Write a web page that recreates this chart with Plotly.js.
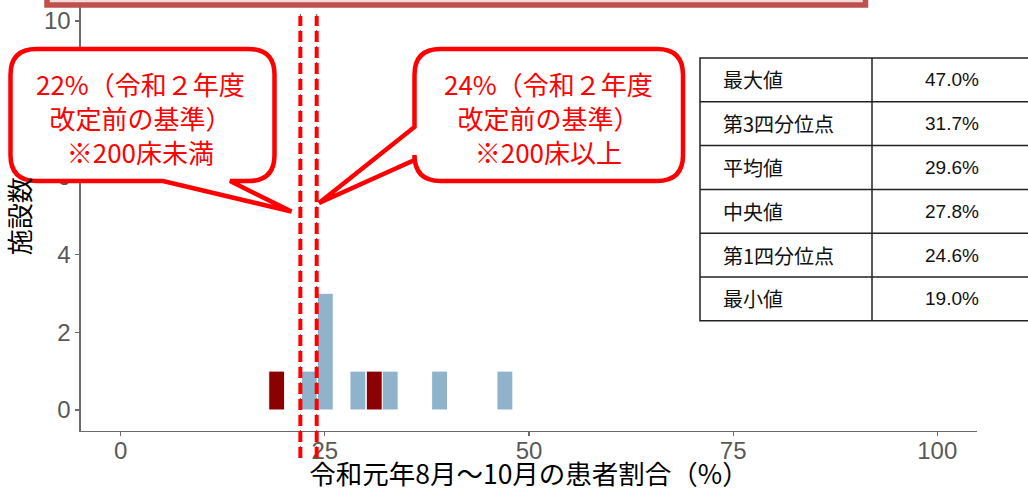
<!DOCTYPE html>
<html>
<head>
<meta charset="utf-8">
<script src="https://cdn.plot.ly/plotly-3.0.1.min.js"></script>
<style>html,body{margin:0;padding:0;background:#fff;}#chart{width:1028px;height:492px;}</style>
</head>
<body>
<div id="chart"></div>
<script>
// ---- data ----
const blueBins = [23.1, 25.05, 29.05, 33.0, 39.05, 47.05];
const blueCounts = [1, 3, 1, 1, 1, 1];
const redBins = [19.1, 31.05];
const redCounts = [1, 1];
const binWidth = 1.95;
const thresholds = [22, 24];
const xTicks = [0, 25, 50, 75, 100];
const yTicks = [0, 2, 4, 6, 8, 10];
const calloutTexts = [
  "22%（令和２年度<br>改定前の基準）<br>※200床未満",
  "24%（令和２年度<br>改定前の基準）<br>※200床以上"
];
const tableLabels = ["最大値", "第3四分位点", "平均値", "中央値", "第1四分位点", "最小値"];
const tableValues = ["47.0%", "31.7%", "29.6%", "27.8%", "24.6%", "19.0%"];
const xTitle = "令和元年8月～10月の患者割合（%）";
const yTitle = "施設数";

// ---- layout helpers (pixel -> paper) ----
const W = 1028, H = 492;
const X = p => p / W;
const Y = p => 1 - p / H;
const pt = (x, y) => X(x).toFixed(5) + "," + Y(y).toFixed(5);

function bubbleBottom(L, T, R, B, r, bx1, bx2, tx, ty) {
  return "M" + pt(L + r, T) + " L" + pt(R - r, T) +
    " Q" + pt(R, T) + " " + pt(R, T + r) +
    " L" + pt(R, B - r) +
    " Q" + pt(R, B) + " " + pt(R - r, B) +
    " L" + pt(bx2, B) + " L" + pt(tx, ty) + " L" + pt(bx1, B) +
    " L" + pt(L + r, B) +
    " Q" + pt(L, B) + " " + pt(L, B - r) +
    " L" + pt(L, T + r) +
    " Q" + pt(L, T) + " " + pt(L + r, T) + " Z";
}
function bubbleLeft(L, T, R, B, r, by1, by2, tx, ty) {
  return "M" + pt(L + r, T) + " L" + pt(R - r, T) +
    " Q" + pt(R, T) + " " + pt(R, T + r) +
    " L" + pt(R, B - r) +
    " Q" + pt(R, B) + " " + pt(R - r, B) +
    " L" + pt(L + r, B) +
    " Q" + pt(L, B) + " " + pt(L, B - r) +
    " L" + pt(L, by2) + " L" + pt(tx, ty) + " L" + pt(L, by1) +
    " L" + pt(L, T + r) +
    " Q" + pt(L, T) + " " + pt(L + r, T) + " Z";
}

const traces = [
  {type: "bar", x: blueBins, y: blueCounts, width: binWidth,
   marker: {color: "#8fb3cb", line: {color: "#ffffff", width: 1}}, hoverinfo: "x+y"},
  {type: "bar", x: redBins, y: redCounts, width: binWidth,
   marker: {color: "#8b0000", line: {color: "#ffffff", width: 1}}, hoverinfo: "x+y"}
];

const shapes = [];
// threshold lines
thresholds.forEach(t => {
  shapes.push({type: "line", xref: "x", yref: "paper", x0: t, x1: t, y0: Y(458), y1: Y(12),
    line: {color: "#555555", width: 1, dash: "4px,4px"}});
  shapes.push({type: "line", xref: "x", yref: "paper", x0: t, x1: t, y0: Y(458), y1: Y(16),
    line: {color: "#ff0000", width: 4, dash: "11px,5px"}});
});
// top red box
shapes.push({type: "rect", xref: "paper", yref: "paper", x0: X(47), x1: X(865.5), y0: Y(5), y1: Y(-20),
  fillcolor: "#f2dcdb", line: {color: "#c0504d", width: 5.5}});
// callouts
shapes.push({type: "path", xref: "paper", yref: "paper",
  path: bubbleBottom(10.5, 49, 274.5, 181, 26, 163, 230, 291.5, 211.5),
  fillcolor: "#ffffff", line: {color: "#ff0000", width: 4.5}});
shapes.push({type: "path", xref: "paper", yref: "paper",
  path: bubbleLeft(414.5, 49, 683, 181, 26, 127, 160, 319, 203),
  fillcolor: "#ffffff", line: {color: "#ff0000", width: 4.5}});
// table
const tblL = 700, tblR = 1032, tblT = 58, rowH = 43.8, colX = 872;
shapes.push({type: "rect", xref: "paper", yref: "paper", x0: X(tblL), x1: X(tblR),
  y0: Y(tblT), y1: Y(tblT + rowH * tableLabels.length),
  fillcolor: "#ffffff", line: {color: "#222222", width: 1.5}});
shapes.push({type: "line", xref: "paper", yref: "paper", x0: X(colX), x1: X(colX),
  y0: Y(tblT), y1: Y(tblT + rowH * tableLabels.length), line: {color: "#222222", width: 1.5}});
for (let i = 1; i < tableLabels.length; i++) {
  shapes.push({type: "line", xref: "paper", yref: "paper", x0: X(tblL), x1: X(tblR),
    y0: Y(tblT + rowH * i), y1: Y(tblT + rowH * i), line: {color: "#222222", width: 1.5}});
}

const annotations = [];
annotations.push({xref: "paper", yref: "paper", x: X(140), y: Y(117), text: calloutTexts[0],
  showarrow: false, xanchor: "center", yanchor: "middle", align: "center",
  font: {family: "Noto Sans CJK JP", size: 26, color: "#ff0000"}});
annotations.push({xref: "paper", yref: "paper", x: X(548), y: Y(117), text: calloutTexts[1],
  showarrow: false, xanchor: "center", yanchor: "middle", align: "center",
  font: {family: "Noto Sans CJK JP", size: 26, color: "#ff0000"}});
tableLabels.forEach((lab, i) => {
  const cy = tblT + rowH * (i + 0.5);
  annotations.push({xref: "paper", yref: "paper", x: X(721), y: Y(cy), text: lab,
    showarrow: false, xanchor: "left", yanchor: "middle",
    font: {family: "Noto Sans CJK JP", size: 20, color: "#111111"}});
  annotations.push({xref: "paper", yref: "paper", x: X(952), y: Y(cy), text: tableValues[i],
    showarrow: false, xanchor: "center", yanchor: "middle",
    font: {family: "Liberation Sans, Arial, sans-serif", size: 19, color: "#111111"}});
});

const axisCommon = {
  showline: true, linecolor: "#6b6b6b", linewidth: 1.3,
  ticks: "outside", ticklen: 4, tickwidth: 1.2, tickcolor: "#6b6b6b",
  showgrid: false, zeroline: false, fixedrange: true,
  tickfont: {family: "Liberation Sans, Arial, sans-serif", size: 24, color: "#595959"}
};

const layout = {
  width: W, height: H,
  margin: {l: 0, r: 0, t: 0, b: 0},
  paper_bgcolor: "#ffffff", plot_bgcolor: "#ffffff",
  showlegend: false, barmode: "overlay",
  xaxis: Object.assign({}, axisCommon, {
    domain: [X(80.7), X(977.3)], range: [-4.9, 104.9],
    tickvals: xTicks, ticktext: xTicks.map(String), ticklabelstandoff: -6,
    title: {text: xTitle, standoff: 15, font: {family: "Noto Sans CJK JP", size: 26.5, color: "#000000"}}
  }),
  yaxis: Object.assign({}, axisCommon, {
    domain: [1 - 431 / H, 1 - 1.5 / H], range: [-0.54, 10.5],
    tickvals: yTicks, ticktext: yTicks.map(String),
    title: {text: yTitle, standoff: 8, font: {family: "Noto Sans CJK JP", size: 26, color: "#000000"}}
  }),
  shapes: shapes,
  annotations: annotations
};

Plotly.newPlot("chart", traces, layout, {displayModeBar: false, staticPlot: true});
</script>
</body>
</html>
